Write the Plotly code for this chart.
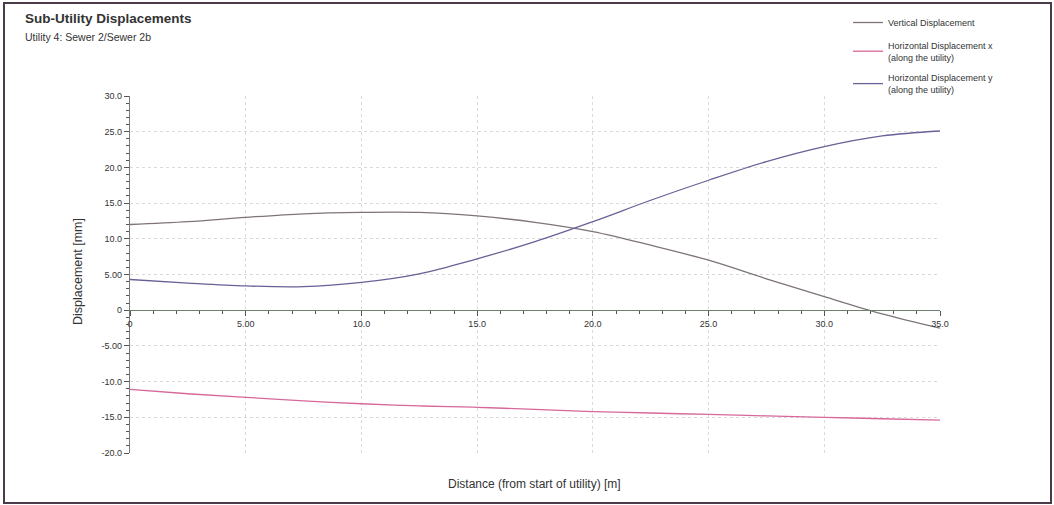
import plotly.graph_objects as go

# ---- data ----
distance = [0, 2.5, 5, 7.5, 10, 12.5, 15, 17.5, 20, 22.5, 25, 27.5, 30, 32.5, 35]
vertical_disp = [12.0, 12.4, 13.0, 13.5, 13.7, 13.7, 13.2, 12.3, 11.0, 9.1, 7.0, 4.4, 1.9, -0.5, -2.5]
horiz_disp_x = [-11.1, -11.7, -12.2, -12.7, -13.1, -13.4, -13.6, -13.9, -14.2, -14.4, -14.6, -14.8, -15.0, -15.2, -15.4]
horiz_disp_y = [4.3, 3.8, 3.4, 3.3, 3.9, 5.1, 7.2, 9.6, 12.4, 15.4, 18.2, 20.8, 22.9, 24.4, 25.1]

x_tickvals = [0, 5, 10, 15, 20, 25, 30, 35]
x_ticktext = ["0", "5.00", "10.0", "15.0", "20.0", "25.0", "30.0", "35.0"]
y_tickvals = [30, 25, 20, 15, 10, 5, 0, -5, -10, -15, -20]
y_ticktext = ["30.0", "25.0", "20.0", "15.0", "10.0", "5.00", "0", "-5.00", "-10.0", "-15.0", "-20.0"]

W, H = 1054, 505
L, R, T, B = 130, 940, 96, 453   # plot area in pixels
pw, ph = R - L, B - T

def px(x):
    return (x - L) / pw

def py(y):
    return (B - y) / ph

FONT = "Liberation Sans, Arial, sans-serif"

fig = go.Figure()
fig.add_trace(go.Scatter(x=distance, y=vertical_disp, mode="lines", line_shape="spline",
                         name="Vertical Displacement", legendgroup="v",
                         line=dict(color="#7e7478", width=1.3)))
fig.add_trace(go.Scatter(x=distance, y=horiz_disp_x, mode="lines", line_shape="spline",
                         name="Horizontal Displacement x<br>(along the utility)", legendgroup="hx",
                         line=dict(color="#d8689a", width=1.3)))
fig.add_trace(go.Scatter(x=distance, y=horiz_disp_y, mode="lines", line_shape="spline",
                         name="Horizontal Displacement y<br>(along the utility)", legendgroup="hy",
                         line=dict(color="#6c5e96", width=1.3)))

fig.update_layout(
    width=W, height=H,
    margin=dict(l=L, r=W - R, t=T, b=H - B, autoexpand=False),
    paper_bgcolor="white", plot_bgcolor="white",
    font=dict(family=FONT, color="#333333", size=9),
    legend=dict(x=px(848), y=py(8), xanchor="left", yanchor="top",
                font=dict(size=9, color="#333333"), bgcolor="rgba(0,0,0,0)",
                tracegroupgap=6, itemwidth=30),
    xaxis=dict(range=[0, 35], anchor="free", position=py(310),
               tickvals=x_tickvals, ticktext=x_ticktext,
               showline=True, linecolor="#6f7f70", linewidth=1.2,
               ticks="outside", ticklen=5, tickcolor="#555555",
               minor=dict(dtick=1, ticks="outside", ticklen=3, tickcolor="#555555", showgrid=False),
               showgrid=True, gridcolor="#dadada", griddash="dot", gridwidth=1,
               zeroline=False, tickfont=dict(size=9, color="#333333")),
    yaxis=dict(range=[-20, 30],
               tickvals=y_tickvals, ticktext=y_ticktext,
               showline=True, linecolor="#7a7a7a", linewidth=1.2,
               ticks="outside", ticklen=5, tickcolor="#555555",
               minor=dict(dtick=1, ticks="outside", ticklen=3, tickcolor="#555555", showgrid=False),
               showgrid=True, gridcolor="#dadada", griddash="dot", gridwidth=1,
               zeroline=False, tickfont=dict(size=9, color="#333333")),
    annotations=[
        dict(text="<b>Sub-Utility Displacements</b>", xref="paper", yref="paper",
             x=px(23), y=py(18), xanchor="left", yanchor="middle", showarrow=False,
             font=dict(size=13.5, color="#333333")),
        dict(text="Utility 4: Sewer 2/Sewer 2b", xref="paper", yref="paper",
             x=px(23), y=py(37), xanchor="left", yanchor="middle", showarrow=False,
             font=dict(size=10.5, color="#333333")),
        dict(text="Displacement [mm]", xref="paper", yref="paper", textangle=-90,
             x=px(78), y=py(272), xanchor="center", yanchor="middle", showarrow=False,
             font=dict(size=12.5, color="#333333")),
        dict(text="Distance (from start of utility) [m]", xref="paper", yref="paper",
             x=px(534), y=py(484), xanchor="center", yanchor="middle", showarrow=False,
             font=dict(size=12, color="#333333")),
    ],
    shapes=[
        dict(type="rect", xref="paper", yref="paper",
             x0=px(4), x1=px(1051), y0=py(503), y1=py(3),
             line=dict(color="#4a3a4a", width=2)),
    ],
)

fig.write_html("out.html")
